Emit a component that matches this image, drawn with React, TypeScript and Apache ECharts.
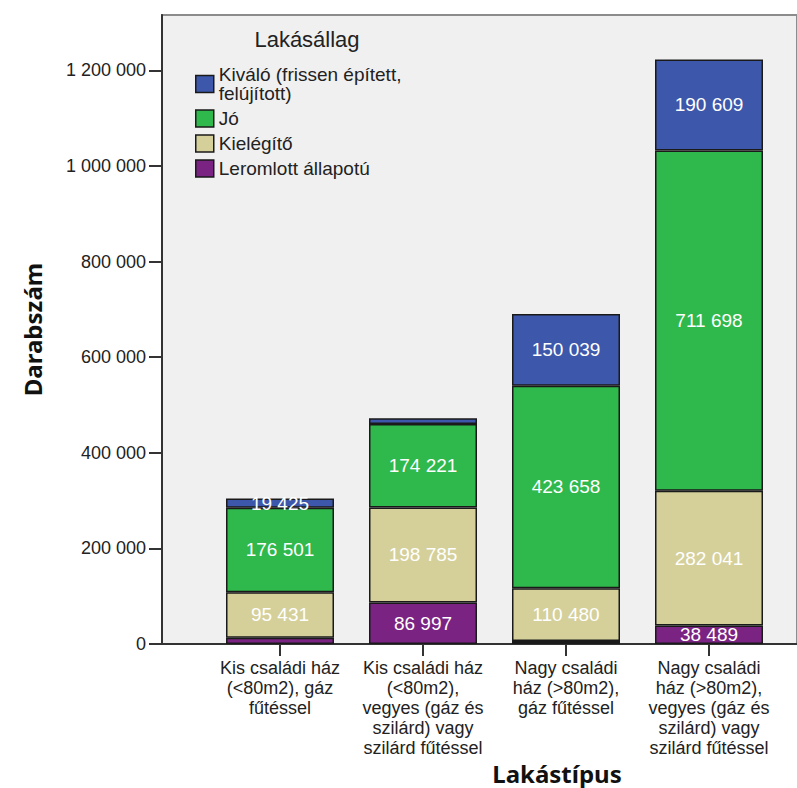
import React, { useEffect, useRef } from 'react';
import * as echarts from 'echarts';

const categories = [
  'Kis családi ház\n(<80m2), gáz\nfűtéssel',
  'Kis családi ház\n(<80m2),\nvegyes (gáz és\nszilárd) vagy\nszilárd fűtéssel',
  'Nagy családi\nház (>80m2),\ngáz fűtéssel',
  'Nagy családi\nház (>80m2),\nvegyes (gáz és\nszilárd) vagy\nszilárd fűtéssel',
];

const nameLeromlott = 'Leromlott állapotú';
const nameKielegito = 'Kielégítő';
const nameJo = 'Jó';
const nameKivalo = 'Kiváló (frissen épített,\nfelújított)';

const leromlott = [13000, 86997, 6100, 38489];
const kielegito = [95431, 198785, 110480, 282041];
const jo = [176501, 174221, 423658, 711698];
const kivalo = [19425, 12100, 150039, 190609];

const yTicks = [0, 200000, 400000, 600000, 800000, 1000000, 1200000];
const yMax = 1315700;

const colLeromlott = '#7b2382';
const colKielegito = '#d5d09a';
const colJo = '#2fb84b';
const colKivalo = '#3d57ab';

const fmt = (v: number) => String(Math.round(v)).replace(/\B(?=(\d{3})+(?!\d))/g, ' ');

const FONT = '"Liberation Sans", Arial, sans-serif';
const BOLD = '"Noto Sans", sans-serif';

function mkSeries(name: string, values: number[], color: string) {
  return {
    name,
    type: 'bar',
    xAxisIndex: 1,
    yAxisIndex: 1,
    stack: 'total',
    barWidth: 108,
    itemStyle: { color, borderColor: '#1a1a1a', borderWidth: 1.5 },
    label: {
      position: 'inside',
      color: '#ffffff',
      fontSize: 19,
      fontFamily: FONT,
      formatter: (p: any) => fmt(p.value),
    },
    data: values.map((v) => ({ value: v, label: { show: v >= 15000 } })),
  };
}

export default function App() {
  const ref = useRef<HTMLDivElement>(null);
  useEffect(() => {
    if (!ref.current) return;
    const chart = echarts.init(ref.current, null, { renderer: 'svg' });
    chart.setOption({
      animation: false,
      backgroundColor: '#ffffff',
      grid: [
        {
          left: 162, right: -30, top: 15, bottom: 144,
          show: true, backgroundColor: '#f0f0f0', borderColor: '#8c8c8c', borderWidth: 2,
        },
        { left: 208.5, right: 16.5, top: 15, bottom: 144 },
      ],
      xAxis: [
        {
          gridIndex: 0, type: 'value', min: 0, max: 1,
          axisLine: { show: true, lineStyle: { color: '#333', width: 2 } },
          axisTick: { show: false }, axisLabel: { show: false }, splitLine: { show: false },
        },
        {
          gridIndex: 1, type: 'category', data: categories,
          axisLine: { show: false },
          axisTick: { show: true, alignWithLabel: true, length: 12, lineStyle: { color: '#333', width: 2 } },
          axisLabel: { interval: 0, margin: 14, lineHeight: 20, fontSize: 18, color: '#222', fontFamily: FONT },
        },
      ],
      yAxis: [
        {
          gridIndex: 0, type: 'value', min: 0, max: yMax,
          axisLine: { show: true, lineStyle: { color: '#333', width: 2 } },
          axisTick: { show: true, length: 13, customValues: yTicks, lineStyle: { color: '#333', width: 2 } },
          axisLabel: { customValues: yTicks, margin: 16, fontSize: 18, color: '#222', fontFamily: FONT, formatter: (v: number) => fmt(v) },
          splitLine: { show: false },
          name: 'Darabszám', nameLocation: 'middle', nameGap: 118,
          nameTextStyle: { fontSize: 24, fontWeight: 'bold', color: '#111', fontFamily: BOLD },
        },
        { gridIndex: 1, type: 'value', min: 0, max: yMax, show: false },
      ],
      legend: {
        data: [nameKivalo, nameJo, nameKielegito, nameLeromlott],
        orient: 'vertical', left: 195, top: 65, padding: 0,
        itemWidth: 18, itemHeight: 17, itemGap: 6,
        icon: 'rect',
        itemStyle: { borderColor: '#1a1a1a', borderWidth: 1.5 },
        textStyle: { fontSize: 19, lineHeight: 19, color: '#222', fontFamily: FONT },
      },
      graphic: [
        {
          type: 'text', x: 307, y: 39,
          style: { text: 'Lakásállag', align: 'center', verticalAlign: 'middle', fontSize: 22, fill: '#222', fontFamily: FONT },
        },
        {
          type: 'text', x: 557, y: 773,
          style: { text: 'Lakástípus', align: 'center', verticalAlign: 'middle', fontSize: 24, fontWeight: 'bold', fill: '#111', fontFamily: BOLD },
        },
      ],
      series: [
        mkSeries(nameLeromlott, leromlott, colLeromlott),
        mkSeries(nameKielegito, kielegito, colKielegito),
        mkSeries(nameJo, jo, colJo),
        mkSeries(nameKivalo, kivalo, colKivalo),
      ],
    });
    return () => chart.dispose();
  }, []);
  return <div ref={ref} style={{ position: 'fixed', left: 0, top: 0, width: 797, height: 788 }} />;
}
